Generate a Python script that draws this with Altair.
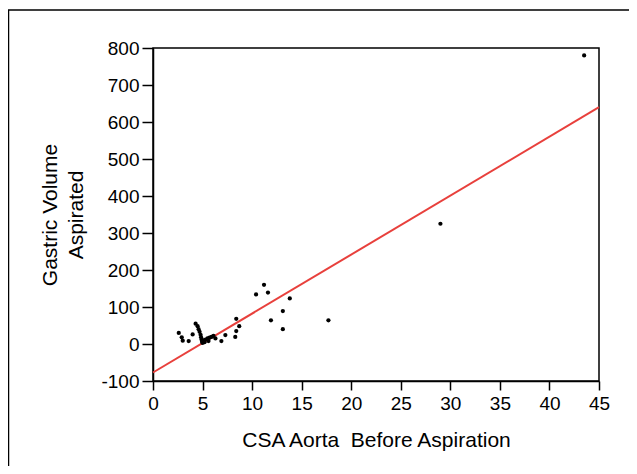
import altair as alt
import pandas as pd

# Scatter data: CSA Aorta before aspiration vs gastric volume aspirated
csa = [2.6, 2.9, 3.0, 3.6, 4.0, 4.3, 4.5, 4.6, 4.7, 4.8, 4.85, 4.9, 4.95, 5.0,
       5.1, 5.3, 5.5, 5.7, 5.9, 6.1, 5.2, 5.6, 6.3, 6.9, 7.3, 8.3, 8.4, 8.4,
       8.7, 10.4, 11.2, 11.6, 11.9, 13.1, 13.1, 13.8, 17.7, 29.0, 43.5]
volume = [30, 18, 9, 8, 26, 55, 48, 40, 33, 25, 18, 12, 6, 3,
          10, 12, 15, 17, 19, 22, 5, 8, 15, 8, 24, 19, 35, 68,
          48, 134, 160, 139, 64, 40, 89, 123, 64, 325, 780]

# Regression line end points
fit_x = [0, 45]
fit_y = [-77, 640]

x_ticks = [0, 5, 10, 15, 20, 25, 30, 35, 40, 45]
y_ticks = [-100, 0, 100, 200, 300, 400, 500, 600, 700, 800]

pts = pd.DataFrame({"csa": csa, "vol": volume})
fit = pd.DataFrame({"csa": fit_x, "vol": fit_y})

FONT = "Liberation Sans"

xscale = alt.Scale(domain=[0, 45], nice=False, zero=False)
yscale = alt.Scale(domain=[-100, 800], nice=False, zero=False)

common = dict(grid=False, labelFontSize=19, titleFontSize=21, titleFontWeight="normal",
              labelFont=FONT, titleFont=FONT, domainColor="black", tickColor="black",
              labelColor="black", titleColor="black", domainWidth=1.5, tickWidth=1.5,
              labelFlush=False, labelOverlap=False, labelExpr="datum.value + ''")

xaxis = alt.Axis(values=x_ticks, title="CSA Aorta\u00a0 Before Aspiration",
                 tickSize=9, labelPadding=4, titlePadding=16, **common)
yaxis = alt.Axis(values=y_ticks, title=["Gastric Volume", "Aspirated"],
                 tickSize=11, labelPadding=3, titlePadding=14,
                 titleLineHeight=26, **common)

frame = alt.Chart(pd.DataFrame({"a": [0]})).mark_rect(
    fill=None, stroke="black", strokeWidth=1.5, clip=False
).encode(
    x=alt.value(-144.5), x2=alt.value(560),
    y=alt.value(-38), y2=alt.value(480)
)

line = alt.Chart(fit).mark_line(color="#e8403c", strokeWidth=2).encode(
    x=alt.X("csa:Q", scale=xscale, axis=xaxis),
    y=alt.Y("vol:Q", scale=yscale, axis=yaxis),
)

points = alt.Chart(pts).mark_circle(color="black", opacity=1, size=18).encode(
    x=alt.X("csa:Q", scale=xscale, axis=xaxis),
    y=alt.Y("vol:Q", scale=yscale, axis=yaxis),
)

chart = alt.layer(frame, line, points).properties(
    width=446, height=333,
    background="white",
    autosize=alt.AutoSizeParams(type="none"),
    padding={"left": 145, "top": 40, "right": 30, "bottom": 85},
).configure_view(stroke="black", strokeWidth=1.5).configure_axis(labelOverlap=False)

chart.save("out.html", embed_options={"renderer": "svg", "actions": False})
